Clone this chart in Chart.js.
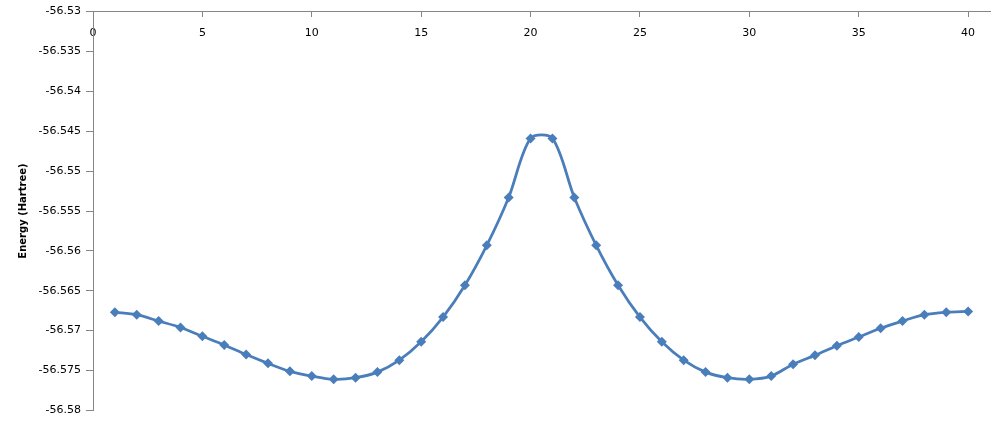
<!DOCTYPE html>
<html>
<head>
<meta charset="utf-8">
<script src="https://cdn.jsdelivr.net/npm/chart.js@4.4.1/dist/chart.umd.min.js"></script>
<style>
  html, body { margin: 0; padding: 0; background: #fff; }
  #wrap { width: 1000px; height: 422px; }
</style>
</head>
<body>
<div id="wrap"><canvas id="energyChart" width="1000" height="422"></canvas></div>
<script>
// Points le long du chemin (index de l'image)
const steps = [1, 2, 3, 4, 5, 6, 7, 8, 9, 10,
    11, 12, 13, 14, 15, 16, 17, 18, 19, 20,
    21, 22, 23, 24, 25, 26, 27, 28, 29, 30,
    31, 32, 33, 34, 35, 36, 37, 38, 39, 40];

// Energie (Hartree)
const energies = [-56.5677, -56.5680, -56.5688, -56.5696, -56.5707, -56.5718, -56.5730, -56.5741, -56.5751, -56.5757,
    -56.5761, -56.5759, -56.5752, -56.5737, -56.5714, -56.5683, -56.5643, -56.5593, -56.5533, -56.5459,
    -56.5459, -56.5533, -56.5593, -56.5643, -56.5683, -56.5714, -56.5737, -56.5752, -56.5759, -56.5761,
    -56.5757, -56.5742, -56.5731, -56.5719, -56.5708, -56.5697, -56.5688, -56.5680, -56.5677, -56.5676];

// Axes
const xMin = 0, xMax = 41, xStep = 5;
const yMin = -56.58, yMax = -56.53, yStep = 0.005;
const yTitle = 'Energy (Hartree)';

const axisColor = '#868686';
const lineColor = '#4a7ebb';
const fontFamily = '"DejaVu Sans", Verdana, sans-serif';

const points = steps.map((x, i) => ({ x, y: energies[i] }));

const ctx = document.getElementById('energyChart').getContext('2d');

new Chart(ctx, {
    type: 'line',
    data: {
        datasets: [{
            data: points,
            borderColor: lineColor,
            backgroundColor: lineColor,
            borderWidth: 2.75,
            tension: 0.3,
            pointStyle: 'rectRot',
            pointRadius: 5,
            pointBorderWidth: 0,
            pointBackgroundColor: lineColor,
            fill: false
        }]
    },
    options: {
        responsive: false,
        animation: false,
        layout: {
            padding: { left: 0, top: 9, right: 10, bottom: 11 }
        },
        plugins: {
            legend: { display: false },
            tooltip: { enabled: false }
        },
        scales: {
            x: {
                type: 'linear',
                position: { y: yMax },
                min: xMin,
                max: xMax,
                grid: {
                    drawOnChartArea: false,
                    drawTicks: true,
                    tickLength: 5,
                    color: axisColor
                },
                border: { color: axisColor, width: 1 },
                ticks: {
                    stepSize: xStep,
                    includeBounds: false,
                    padding: 10,
                    maxRotation: 0,
                    color: '#000',
                    font: { family: fontFamily, size: 11 }
                }
            },
            y: {
                type: 'linear',
                min: yMin,
                max: yMax,
                afterFit: scale => { scale.width = 93; },
                grid: {
                    drawOnChartArea: false,
                    drawTicks: true,
                    tickLength: 7,
                    color: axisColor
                },
                border: { color: axisColor, width: 1 },
                ticks: {
                    stepSize: yStep,
                    padding: 5,
                    color: '#000',
                    font: { family: fontFamily, size: 11 },
                    callback: v => String(+v.toFixed(3))
                },
                title: {
                    display: true,
                    text: yTitle,
                    color: '#000',
                    padding: { top: 17, bottom: 0 },
                    font: { family: fontFamily, size: 10, weight: 'bold' }
                }
            }
        }
    }
});
</script>
</body>
</html>
